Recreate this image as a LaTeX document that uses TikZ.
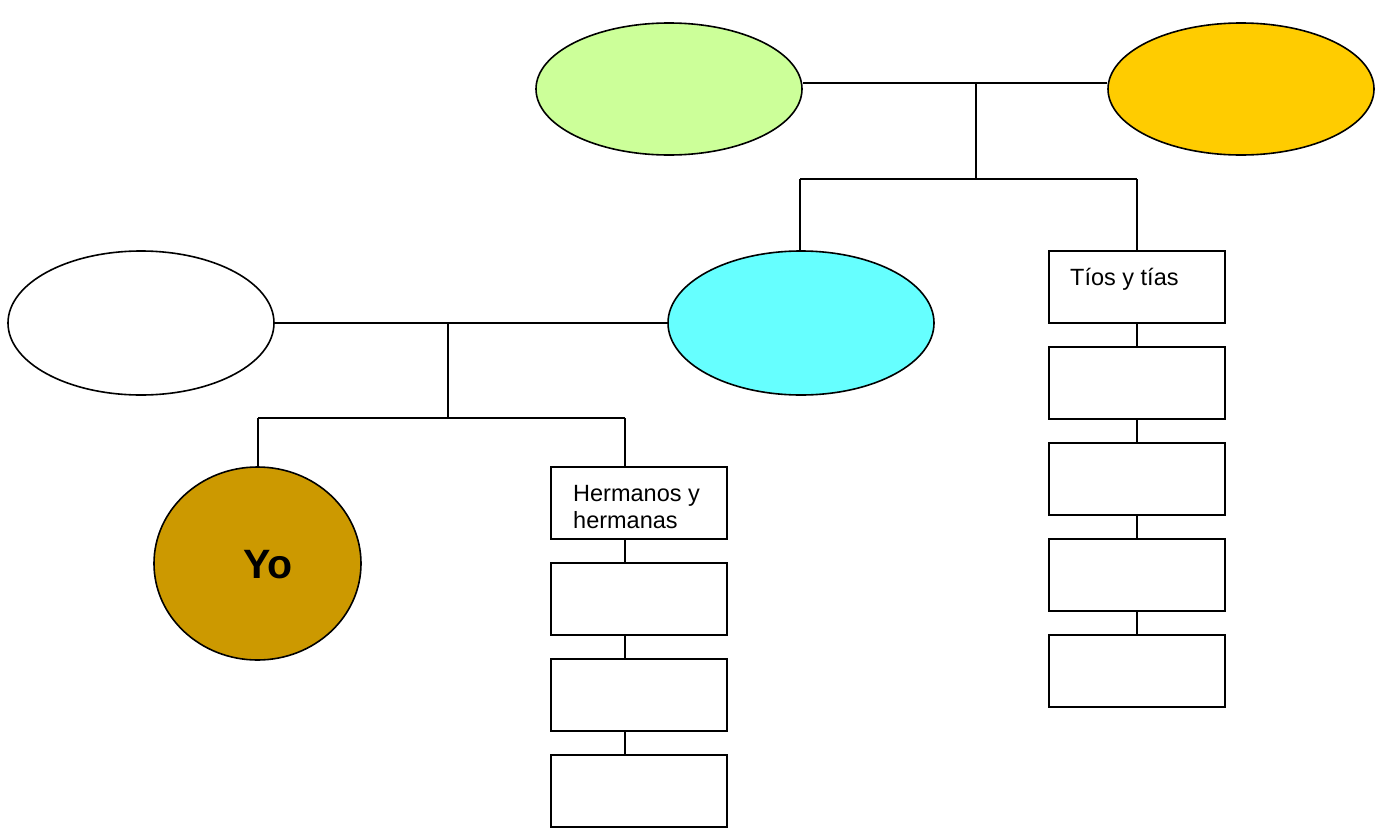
\documentclass[tikz,border=0pt]{standalone}
\usepackage{fontspec}
\setmainfont{Liberation Sans}
\usetikzlibrary{shapes.geometric}
\definecolor{cgreen}{HTML}{CCFF99}
\definecolor{corange}{HTML}{FFCC00}
\definecolor{ccyan}{HTML}{66FFFF}
\definecolor{cgold}{HTML}{CC9900}
\begin{document}
\begin{tikzpicture}[x=1pt,y=-1pt,
  oval/.style={ellipse,draw=black,line width=1.6pt,inner sep=0pt,minimum width=266pt,minimum height=144pt},
  rbox/.style={rectangle,draw=black,line width=2pt,inner sep=0pt,minimum width=176pt,minimum height=72pt},
  conn/.style={draw=black,line width=1.7pt},
  lbl/.style={anchor=base west,inner sep=0pt,font=\fontsize{23.5}{27}\selectfont,align=left}]
\useasboundingbox[fill=white] (0,0) rectangle (1383,827);
% top generation
\node[oval,fill=cgreen,minimum height=132pt] (gpa) at (669,89) {};
\node[oval,fill=corange,minimum height=132pt] (gma) at (1241,89) {};
% parents
\node[oval,fill=white] (dad) at (141,323) {};
\node[oval,fill=ccyan] (mom) at (801,323) {};
% Yo
\node[ellipse,draw=black,line width=1.6pt,fill=cgold,inner sep=0pt,minimum width=207pt,minimum height=193pt] (yo) at (257.5,563.5) {};
\node[anchor=base,inner sep=0pt,font=\fontsize{41}{41}\selectfont\bfseries] (yot) at (268,578) {Yo};
% siblings column
\node[rbox] (h1) at (639,503) {};
\node[rbox] (h2) at (639,599) {};
\node[rbox] (h3) at (639,695) {};
\node[rbox] (h4) at (639,791) {};
\node[lbl] (h1t) at (573,528) {Hermanos y\\hermanas};
% uncles column
\node[rbox] (t1) at (1137,287) {};
\node[rbox] (t2) at (1137,383) {};
\node[rbox] (t3) at (1137,479) {};
\node[rbox] (t4) at (1137,575) {};
\node[rbox] (t5) at (1137,671) {};
\node[lbl] (t1t) at (1070,285) {Tíos y tías};
% junctions
\coordinate (j1) at (976,83);
\coordinate (j2) at (976,179);
\coordinate (j2l) at (800,179);
\coordinate (j2r) at (1137,179);
\coordinate (j3) at (448,323);
\coordinate (j4) at (448,418);
\coordinate (j4l) at (258,418);
\coordinate (j4r) at (625,418);
\coordinate (m1) at (552,418);
\coordinate (m2) at (566,418);
% connectors
\path[conn] (gpa.east |- j1) -- (gma.west |- j1);
\path[conn] (j1) -- (j2);
\path[conn] (j2l) -- (j2r);
\path[conn] (j2l) -- (j2l |- mom.north);
\path[conn] (j2r) -- (t1.north);
\path[conn] (dad.east) -- (mom.west);
\path[conn] (j3) -- (j4);
\path[conn] (j4l) -- (j4r);
\path[draw=black,line width=2.6pt] (m1) -- (m2);
\path[conn] (j4l) -- (j4l |- yo.north);
\path[conn] (j4r) -- (j4r |- h1.north);
\path[conn] (h1.south -| j4r) -- (h2.north -| j4r);
\path[conn] (h2.south -| j4r) -- (h3.north -| j4r);
\path[conn] (h3.south -| j4r) -- (h4.north -| j4r);
\path[conn] (t1.south) -- (t2.north);
\path[conn] (t2.south) -- (t3.north);
\path[conn] (t3.south) -- (t4.north);
\path[conn] (t4.south) -- (t5.north);
\end{tikzpicture}
\end{document}
